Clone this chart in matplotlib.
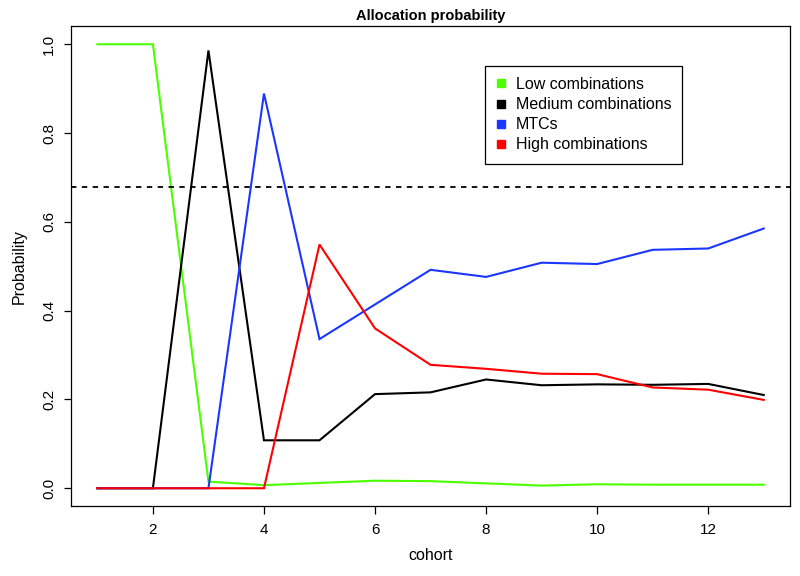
import matplotlib
matplotlib.use("Agg")
import matplotlib.pyplot as plt
from matplotlib.lines import Line2D
import numpy as np

plt.rcParams['font.family'] = ['Liberation Sans', 'DejaVu Sans']

cohort = [1, 2, 3, 4, 5, 6, 7, 8, 9, 10, 11, 12, 13]
low = [1.0, 1.0, 0.015, 0.007, 0.012, 0.017, 0.016, 0.011, 0.006, 0.009, 0.008, 0.008, 0.008]
medium = [0.0, 0.0, 0.986, 0.108, 0.108, 0.212, 0.216, 0.245, 0.232, 0.234, 0.233, 0.235, 0.210]
mtc = [0.0, 0.0, 0.0, 0.889, 0.336, 0.414, 0.492, 0.476, 0.508, 0.505, 0.537, 0.540, 0.585]
high = [0.0, 0.0, 0.0, 0.0, 0.549, 0.360, 0.278, 0.269, 0.258, 0.257, 0.227, 0.222, 0.199]
threshold = 0.679

series_names = ["Low combinations", "Medium combinations", "MTCs", "High combinations"]
series_colors = ["#4cff00", "#000000", "#1a36ff", "#ff0000"]

fig = plt.figure(figsize=(8, 5.76), dpi=100)
ax = fig.add_axes([0.0884, 0.1215, 0.8996, 0.8325])

for vals, col in zip([low, medium, mtc, high], series_colors):
    ax.plot(cohort, vals, color=col, lw=1.5, solid_joinstyle='miter')
ax.axhline(threshold, color='black', lw=1.3, dashes=(3, 3))

ax.set_xlim(0.52, 13.48)
ax.set_ylim(-0.04, 1.04)
ax.set_xticks([2, 4, 6, 8, 10, 12])
ax.set_yticks([0.0, 0.2, 0.4, 0.6, 0.8, 1.0])
ax.set_yticklabels(['0.0', '0.2', '0.4', '0.6', '0.8', '1.0'], rotation=90, va='center')
ax.tick_params(direction='out', length=5.4, width=0.9, labelsize=11)
ax.tick_params(axis='x', pad=7)
ax.tick_params(axis='y', pad=5)
for s in ax.spines.values():
    s.set_linewidth(0.9)

ax.set_title("Allocation probability", fontsize=10.5, fontweight='bold', pad=5)
ax.set_xlabel("cohort", fontsize=11.5, labelpad=8)
ax.set_ylabel("Probability", fontsize=11.5, labelpad=11)

handles = [Line2D([], [], lw=0, marker='s', ms=5.5, color=c) for c in series_colors]
leg = ax.legend(handles, series_names, loc='upper left', bbox_to_anchor=(0.575, 0.918),
                borderaxespad=0, fontsize=11.5, fancybox=False, edgecolor='black',
                framealpha=1, handlelength=0.6, handletextpad=0.65, labelspacing=0.32,
                borderpad=0.7)
leg.get_frame().set_linewidth(0.9)

plt.savefig("out.png", dpi=100)
